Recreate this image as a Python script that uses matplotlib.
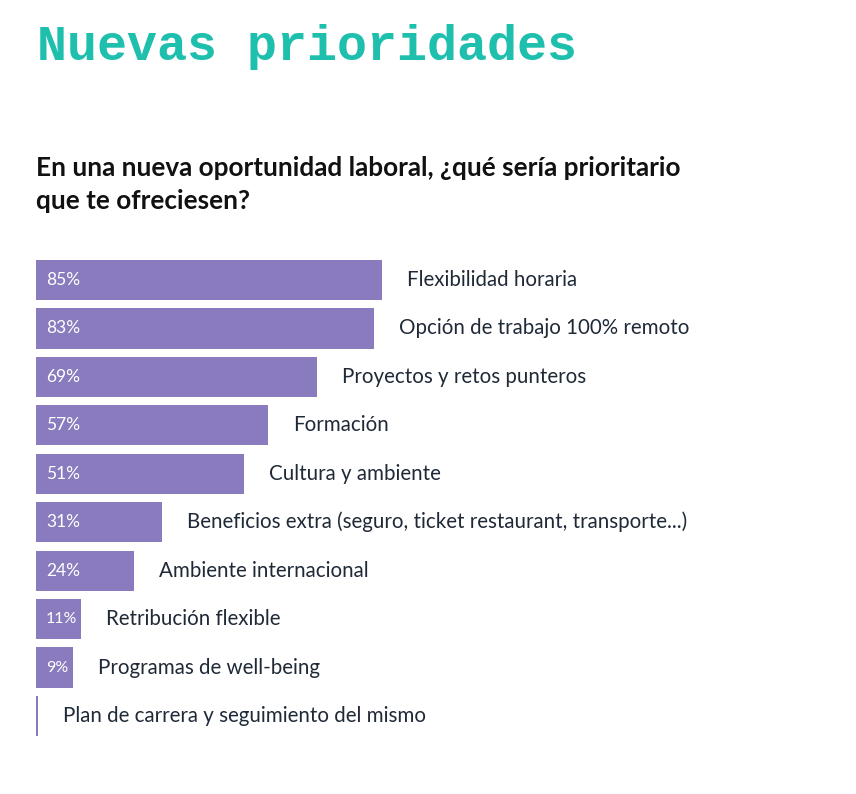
import matplotlib.pyplot as plt
import numpy as np

categorias = ['Flexibilidad horaria', 'Opción de trabajo 100% remoto',
              'Proyectos y retos punteros', 'Formación', 'Cultura y ambiente',
              'Beneficios extra (seguro, ticket restaurant, transporte...)',
              'Ambiente internacional', 'Retribución flexible',
              'Programas de well-being', 'Plan de carrera y seguimiento del mismo']
valores = [85, 83, 69, 57, 51, 31, 24, 11, 9, 0.5]
etiquetas = ['85%', '83%', '69%', '57%', '51%', '31%', '24%', '11%', '9%', '']

morado = '#8a7bbe'
texto = '#1f2937'

W, H = 856, 794
fig = plt.figure(figsize=(W / 100, H / 100), dpi=100)
fig.patch.set_facecolor('white')

fig.text(37 / W, 1 - 47 / H, 'Nuevas prioridades', family='Liberation Mono',
         weight='bold', fontsize=36, color='#1fbfae', va='center', ha='left')
fig.text(36 / W, 1 - 168 / H, 'En una nueva oportunidad laboral, ¿qué sería prioritario',
         family='Lato', weight='bold', fontsize=18.8, color='#111111', va='center')
fig.text(36 / W, 1 - 201 / H, 'que te ofreciesen?',
         family='Lato', weight='bold', fontsize=18.8, color='#111111', va='center')

ax = fig.add_axes([36 / W, 1 - 745 / H, 820 / W, 495 / H])
y = np.arange(len(valores))
ax.barh(y, valores, height=0.83, color=morado)
ax.set_xlim(0, 820 / 4.07)
ax.set_ylim(9.6, -0.62)
ax.axis('off')

for i, (v, e, c) in enumerate(zip(valores, etiquetas, categorias)):
    if e:
        ax.annotate(e, (0, i), xytext=(10, 0), textcoords='offset pixels',
                    va='center', ha='left', color='white',
                    fontsize=12.5 if v > 15 else 11.5, family='Lato')
    ax.annotate(c, (v, i), xytext=(25, 0), textcoords='offset pixels',
                va='center', ha='left', color=texto, fontsize=14.8, family='Lato')

fig.savefig('out.png', dpi=100)
